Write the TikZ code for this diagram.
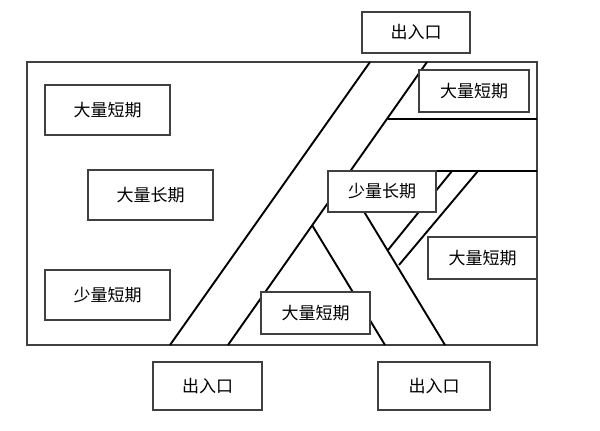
\documentclass[tikz,border=0pt]{standalone}
\usepackage{fontspec}
\newfontfamily\cjk{Noto Sans CJK SC}
\begin{document}
\begin{tikzpicture}[x=1pt,y=-1pt,
 ln/.style={line width=1.9pt},
 bx/.style={draw=black!75,line width=1.1pt,fill=white,font=\cjk\fontsize{17}{17}\selectfont}]
\useasboundingbox (0,0) rectangle (600,431);
\draw[line width=1.4pt,black!75] (27,62) rectangle (537,345);
% roads
\coordinate (a1) at (370,62); \coordinate (a2) at (170,345);
\coordinate (b1) at (427,62); \coordinate (b2) at (228,345);
\draw[ln] (a1)--(a2);
\draw[ln] (b1)--(b2);
\coordinate (h1a) at (388,119); \coordinate (h1b) at (537,119);
\coordinate (h2a) at (351,171); \coordinate (h2b) at (537,171);
\draw[ln] (h1a)--(h1b);
\draw[ln] (h2a)--(h2b);
\coordinate (c1) at (360,205); \coordinate (c2) at (445,345);
\draw[ln] (c1)--(c2);
\coordinate (d1) at (312,225); \coordinate (d2) at (385,345);
\draw[ln] (d1)--(d2);
\coordinate (e1) at (452,171); \coordinate (e2) at (388,250);
\coordinate (f1) at (478,171); \coordinate (f2) at (399,265);
\draw[ln] (e1)--(e2);
\draw[ln] (f1)--(f2);
% boxes
\node[bx,minimum width=108,minimum height=41] (top) at (416,32.5) {出入口};
\node[bx,minimum width=110,minimum height=42] (r1) at (474,91) {大量短期};
\node[bx,minimum width=108,minimum height=41] (m) at (382,191.5) {少量长期};
\node[bx,minimum width=109,minimum height=42] (r2) at (482.5,258) {大量短期};
\node[bx,minimum width=109,minimum height=42] (b) at (315.5,313) {大量短期};
\node[bx,minimum width=125,minimum height=50] (l1) at (107.5,110) {大量短期};
\node[bx,minimum width=125,minimum height=50] (l2) at (150.5,195) {大量长期};
\node[bx,minimum width=125,minimum height=50] (l3) at (107.5,295) {少量短期};
\node[bx,minimum width=109,minimum height=48] (e1b) at (207.5,386) {出入口};
\node[bx,minimum width=112,minimum height=48] (e2b) at (434,386) {出入口};
\end{tikzpicture}
\end{document}
